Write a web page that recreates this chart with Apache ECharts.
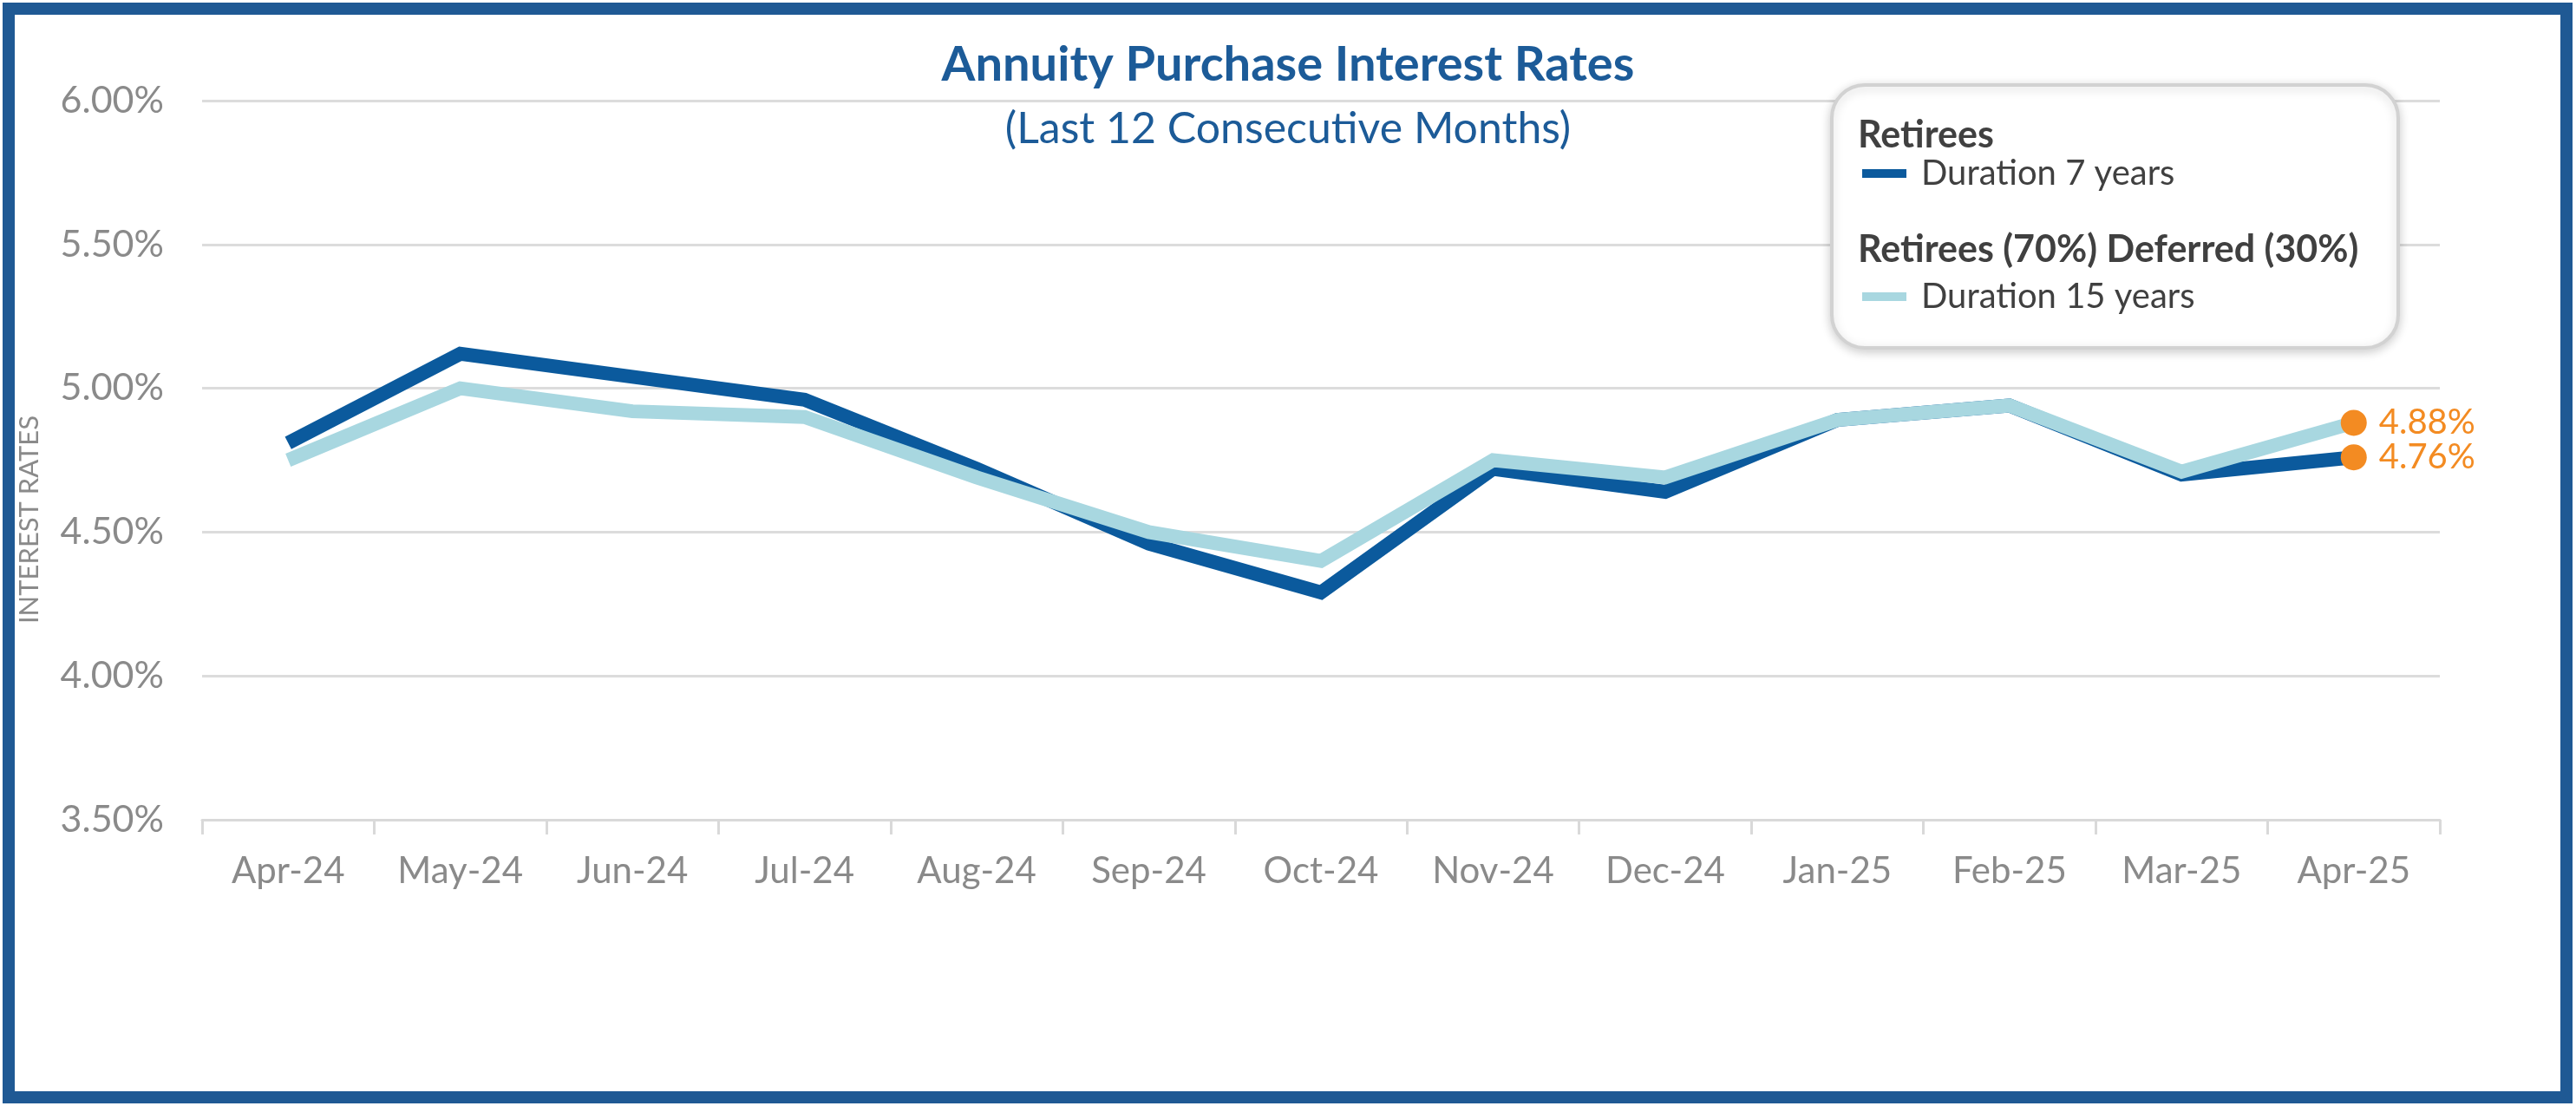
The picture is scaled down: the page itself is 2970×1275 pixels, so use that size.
<!DOCTYPE html>
<html>
<head>
<meta charset="utf-8">
<script src="https://cdn.jsdelivr.net/npm/echarts@6/dist/echarts.min.js"></script>
<style>
html,body{margin:0;padding:0;background:#fff;}
#chart{width:2970px;height:1275px;}
</style>
</head>
<body>
<div id="chart"></div>
<script>
const categories = ['Apr-24','May-24','Jun-24','Jul-24','Aug-24','Sep-24','Oct-24','Nov-24','Dec-24','Jan-25','Feb-25','Mar-25','Apr-25'];
const retirees7 = [4.81, 5.12, 5.04, 4.96, 4.72, 4.46, 4.29, 4.72, 4.64, 4.89, 4.94, 4.70, 4.76];
const mixed15 = [4.75, 5.00, 4.92, 4.90, 4.69, 4.50, 4.40, 4.75, 4.69, 4.89, 4.94, 4.71, 4.88];
const yTicks = { min: 3.5, max: 6.0, interval: 0.5 };
const names = ['Duration 7 years', 'Duration 15 years'];
const headers = ['Retirees', 'Retirees (70%) Deferred (30%)'];

const FONT = 'Lato, "Open Sans", sans-serif';
const DARK = '#0b5a9d';
const LIGHT = '#a8d7e0';
const ORANGE = '#f38b22';
const TITLE = '#1c5b98';
const GRAY = '#8a8a8a';
const last = categories.length - 1;

const chart = echarts.init(document.getElementById('chart'), null, { renderer: 'canvas' });
chart.setOption({
  backgroundColor: '#ffffff',
  animation: false,
  title: {
    text: 'Annuity Purchase Interest Rates',
    subtext: '(Last 12 Consecutive Months)',
    left: 'center',
    top: 38,
    itemGap: 12,
    textStyle: { fontFamily: FONT, fontSize: 56, fontWeight: 'bold', color: TITLE, lineHeight: 64 },
    subtextStyle: { fontFamily: FONT, fontSize: 50, color: TITLE, lineHeight: 60 }
  },
  grid: { left: 233, right: 157, top: 116, bottom: 330 },
  xAxis: {
    type: 'category',
    data: categories,
    boundaryGap: true,
    axisLine: { lineStyle: { color: '#d9d9d9', width: 3 } },
    axisTick: { show: true, interval: 0, length: 17, lineStyle: { color: '#d9d9d9', width: 3 } },
    axisLabel: { interval: 0, margin: 38, fontFamily: FONT, fontSize: 42, color: GRAY }
  },
  yAxis: {
    type: 'value',
    min: yTicks.min, max: yTicks.max, interval: yTicks.interval,
    axisLine: { show: false },
    axisTick: { show: false },
    splitLine: { lineStyle: { color: '#dcdcdc', width: 3 } },
    axisLabel: { margin: 44, fontFamily: FONT, fontSize: 43, color: GRAY, formatter: v => v.toFixed(2) + '%' }
  },
  legend: [
    { data: [names[0]], orient: 'vertical', left: 2142, top: 171, itemWidth: 51, itemHeight: 10, icon: 'rect', z: 10,
      selectedMode: false,
      textStyle: { fontFamily: FONT, fontSize: 40, color: '#404040', lineHeight: 48, padding: [0, 0, 0, 12] } },
    { data: [names[1]], orient: 'vertical', left: 2142, top: 313, itemWidth: 51, itemHeight: 10, icon: 'rect', z: 10,
      selectedMode: false,
      textStyle: { fontFamily: FONT, fontSize: 40, color: '#404040', lineHeight: 48, padding: [0, 0, 0, 12] } }
  ],
  graphic: [
    { type: 'rect', z: 5, shape: { x: 2112, y: 98, width: 653, height: 303, r: 38 },
      style: { fill: '#ffffff', stroke: '#d2d2d2', lineWidth: 4, shadowBlur: 12, shadowColor: 'rgba(0,0,0,0.18)', shadowOffsetY: 3 } },
    { type: 'text', z: 6, left: 2142, top: 135,
      style: { text: headers[0], fontFamily: FONT, fontSize: 43, fontWeight: 'bold', fill: '#404040' } },
    { type: 'text', z: 6, left: 2142, top: 267,
      style: { text: headers[1], fontFamily: FONT, fontSize: 43, fontWeight: 'bold', fill: '#404040' } },
    { type: 'text', z: 6, x: 34, y: 599, rotation: Math.PI / 2,
      style: { text: 'INTEREST RATES', fontFamily: FONT, fontSize: 31, fill: GRAY, align: 'center', verticalAlign: 'middle' } },
    { type: 'rect', z: 20, silent: true, shape: { x: 10, y: 10, width: 2949, height: 1255 },
      style: { fill: 'none', stroke: '#1f5994', lineWidth: 14 } }
  ],
  series: [
    { name: names[0], type: 'line', data: retirees7, symbol: 'none', z: 3,
      itemStyle: { color: DARK },
      lineStyle: { color: DARK, width: 16, join: 'miter' } },
    { name: names[1], type: 'line', data: mixed15, symbol: 'none', z: 4,
      itemStyle: { color: LIGHT },
      lineStyle: { color: LIGHT, width: 16, join: 'miter' } },
    { name: 'end', type: 'scatter', z: 6, symbolSize: 30,
      data: [[categories[last], mixed15[last]], [categories[last], retirees7[last]]],
      itemStyle: { color: ORANGE, opacity: 1 },
      label: { show: true, position: 'right', distance: 14, fontFamily: FONT, fontSize: 40, color: ORANGE,
        formatter: p => p.value[1].toFixed(2) + '%' } }
  ]
});
</script>
</body>
</html>
